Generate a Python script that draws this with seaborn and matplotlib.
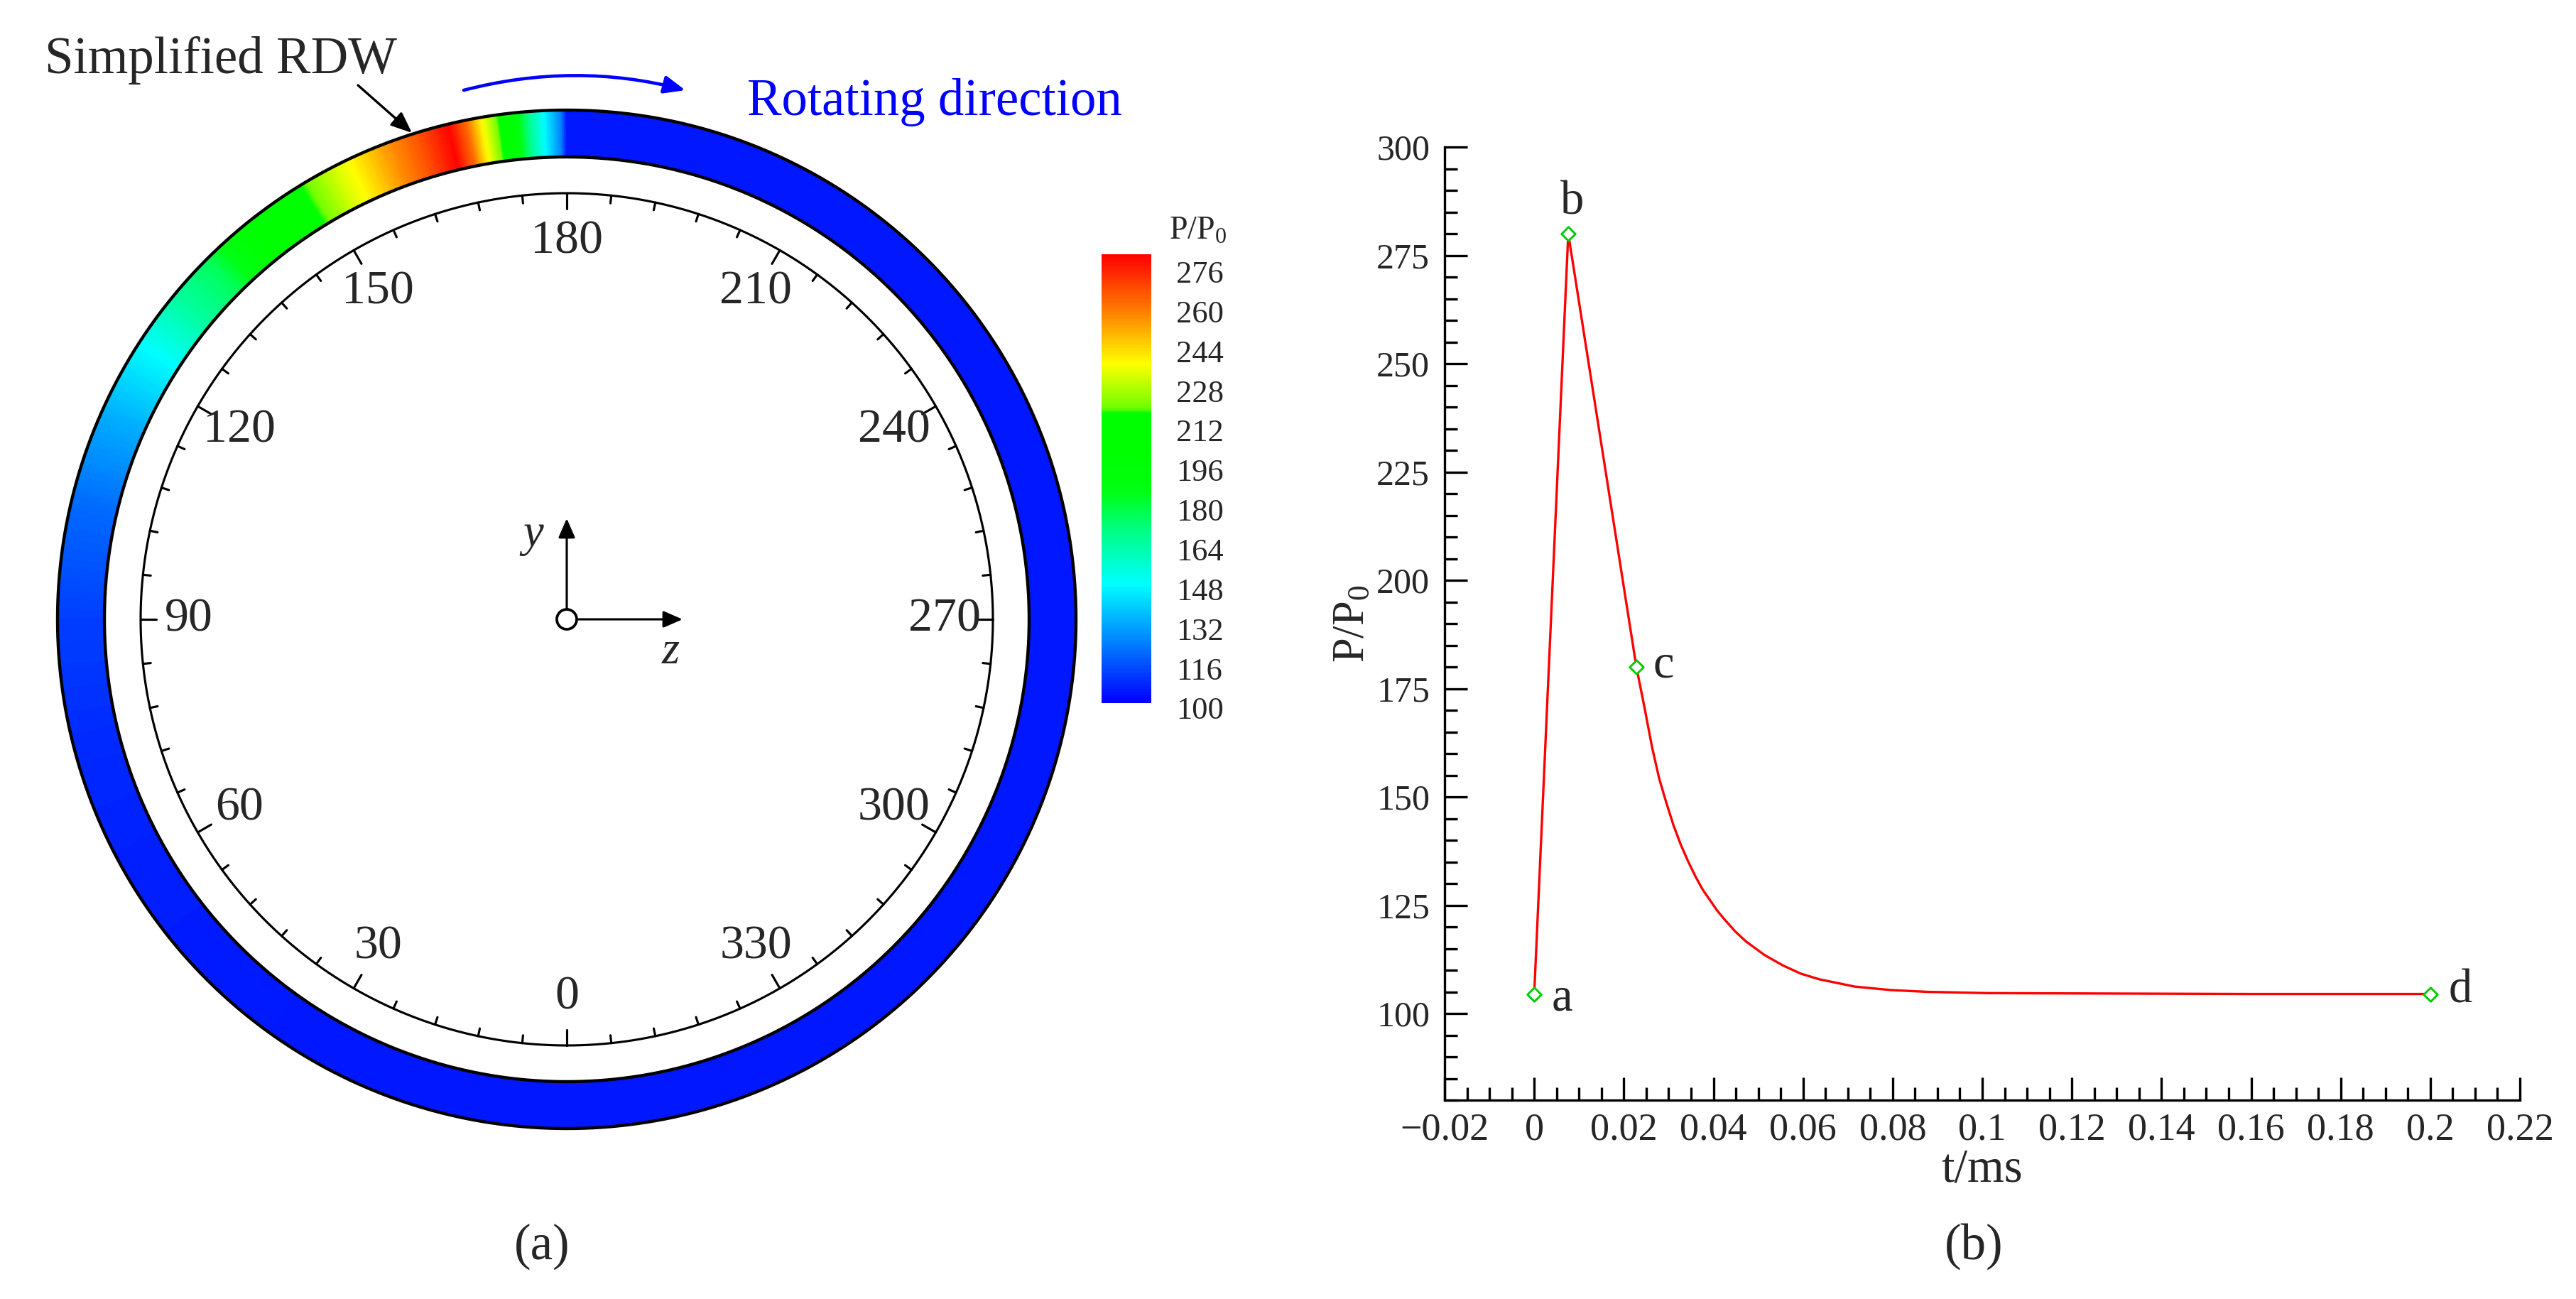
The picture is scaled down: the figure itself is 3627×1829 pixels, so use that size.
import numpy as np
import matplotlib
matplotlib.use('Agg')
import matplotlib.pyplot as plt
from matplotlib.colors import LinearSegmentedColormap
from matplotlib.patches import Circle, FancyArrowPatch
from matplotlib.ticker import MultipleLocator, FuncFormatter
from matplotlib.transforms import ScaledTranslation
import seaborn as sns

# ---------------- data ----------------
# (b) pressure history behind the detonation front
time_ms = [0, 0.0076, 0.0228, 0.0246, 0.0263, 0.0279, 0.0295, 0.0311, 0.0327, 0.0344,
           0.0360, 0.0376, 0.0408, 0.0424, 0.0449, 0.0473, 0.0514, 0.0555, 0.0595,
           0.0636, 0.0716, 0.0797, 0.0877, 0.1014, 0.13, 0.16, 0.2]
pressure = [104.5, 280, 180, 170.7, 161.5, 154.2, 148.6, 143.4, 139.0, 135.0,
            131.6, 128.6, 123.8, 121.8, 118.9, 116.6, 113.5, 111.1, 109.2,
            107.9, 106.2, 105.4, 105.0, 104.7, 104.6, 104.5, 104.5]
key_labels = ['a', 'b', 'c', 'd']
key_time = [0, 0.0076, 0.0228, 0.2]
key_p = [104.5, 280, 180, 104.5]

# (a) P/P0 around the ring, dial angle in degrees
ring_theta = [0, 30, 60, 75, 90, 103, 114, 122.8, 129.6, 134.9, 139.4, 148.5, 152.2,
              154.6, 159.5, 162.7, 166.5, 168.5, 170.1, 171.5, 173.3, 175.5, 177.4,
              179.3, 180, 360]
ring_p = [104.5, 104.7, 106, 108, 112, 120, 133, 148, 165, 175, 195, 217, 230,
          237, 255, 265, 280, 262, 240, 225, 205, 170, 148,
          125, 104.5, 104.5]

dial_labels = [0, 30, 60, 90, 120, 150, 180, 210, 240, 270, 300, 330]
cbar_ticks = [100, 116, 132, 148, 164, 180, 196, 212, 228, 244, 260, 276]

# ---------------- style ----------------
sns.set_style('ticks')
plt.rcParams['font.family'] = ['Liberation Serif', 'DejaVu Sans']
plt.rcParams['mathtext.fontset'] = 'custom'
plt.rcParams['mathtext.rm'] = 'Liberation Serif'
plt.rcParams['mathtext.it'] = 'Liberation Serif:italic'

# tecplot-like rainbow
cmap = LinearSegmentedColormap.from_list('tec', [
    (0.0, (0, 0, 1)),
    ((148 - 100) / 181, (0, 1, 1)),
    ((170 - 100) / 181, (0, 1, 0.5)),
    ((185 - 100) / 181, (0, 1, 0.08)),
    ((200 - 100) / 181, (0, 1, 0)),
    ((217 - 100) / 181, (0, 1, 0)),
    ((219 - 100) / 181, (0.43, 1, 0)),
    ((237 - 100) / 181, (1, 1, 0)),
    ((258 - 100) / 181, (1, 0.5, 0)),
    (1.0, (1, 0, 0)),
])
vmin, vmax = 100, 281

W, H = 3627, 1829
fig = plt.figure(figsize=(W / 300, H / 300), dpi=300)

# whole-figure canvas in pixel units for panel (a)
ax0 = fig.add_axes([0, 0, 1, 1])
ax0.set_xlim(0, W)
ax0.set_ylim(H, 0)
ax0.axis('off')

cx, cy = 798, 872


def polar_xy(theta, r):
    th = np.deg2rad(theta)
    return cx - r * np.sin(th), cy + r * np.cos(th)


# ring coloured by pressure
th_fine = np.linspace(0, 360, 1441)
p_fine = np.interp(th_fine, ring_theta, ring_p)
TH, RR = np.meshgrid(th_fine, [651, 717])
X, Y = polar_xy(TH, RR)
mesh = ax0.pcolormesh(X, Y, np.vstack([p_fine, p_fine]), shading='gouraud',
                      cmap=cmap, vmin=vmin, vmax=vmax, zorder=1)
for r in (651, 717):
    x, y = polar_xy(th_fine, r)
    ax0.plot(x, y, color='black', lw=1.05, zorder=2)

# dial
x, y = polar_xy(th_fine, 600)
ax0.plot(x, y, color='black', lw=0.75, zorder=2)
for a in range(0, 360, 6):
    ln = 22 if a % 30 == 0 else 11
    x, y = polar_xy(np.array([a, a]), np.array([600, 600 - ln]))
    ax0.plot(x, y, color='black', lw=0.75, zorder=2)
for a in dial_labels:
    x, y = polar_xy(a, 532)
    ax0.text(x, y, str(a), ha='center', va='center', fontsize=16.3)

# coordinate icon
arr_kw = dict(arrowstyle='-|>,head_length=0.55,head_width=0.24', color='black',
              lw=0.75, shrinkA=0, shrinkB=0, mutation_scale=10)
ax0.add_patch(FancyArrowPatch((cx, cy - 14), (cx, 730), **arr_kw))
ax0.add_patch(FancyArrowPatch((cx + 14, cy), (961, cy), **arr_kw))
ax0.add_patch(Circle((cx, cy), 14, facecolor='white', edgecolor='black', lw=0.9, zorder=3))
ax0.text(751, 753, 'y', style='italic', fontsize=15.5, ha='center', va='center')
ax0.text(944, 918, 'z', style='italic', fontsize=15.5, ha='center', va='center')

# annotations
ax0.text(63, 103, 'Simplified RDW', fontsize=17.5, ha='left', va='baseline')
ax0.add_patch(FancyArrowPatch((504, 120), (580, 187), color='black', lw=0.8,
                              arrowstyle='-|>,head_length=0.6,head_width=0.25',
                              mutation_scale=10, shrinkA=0, shrinkB=0))
ax0.text(1052, 162, 'Rotating direction', fontsize=17.5, color='#0000ff',
         ha='left', va='baseline')
ax0.add_patch(FancyArrowPatch((653, 127), (965, 127), color='#0000ff', lw=1.1,
                              connectionstyle='arc3,rad=-0.13',
                              arrowstyle='-|>,head_length=0.6,head_width=0.25',
                              mutation_scale=10, shrinkA=0, shrinkB=0))
ax0.text(763, 1755, '(a)', fontsize=17, ha='center', va='center')
ax0.text(2779, 1755, '(b)', fontsize=17, ha='center', va='center')
ax0.text(1686, 325, r'P/P$_\mathrm{0}$', fontsize=11, ha='center', va='center')

# colorbar
cax = fig.add_axes([1551 / W, 1 - 990 / H, 70 / W, 632 / H])
cb = fig.colorbar(mesh, cax=cax)
cb.outline.set_visible(False)
cb.set_ticks(cbar_ticks)
cax.tick_params(length=0, pad=8.5, labelsize=10.7)
shift = ScaledTranslation(0, -7 / 300, fig.dpi_scale_trans)
for lab in cax.get_yticklabels():
    lab.set_transform(lab.get_transform() + shift)

# ---------------- panel (b) ----------------
ax1 = fig.add_axes([2034 / W, 1 - 1549 / H, 1514 / W, 1342 / H])
sns.lineplot(x=time_ms, y=pressure, color='red', lw=0.8, estimator=None, ax=ax1)
sns.scatterplot(x=key_time, y=key_p, marker='D', s=11, facecolor='white',
                edgecolor='#00cc00', linewidth=0.7, zorder=5, ax=ax1)
offsets = {'a': (9.4, -1.5), 'b': (1.4, 10.5), 'c': (9.1, 0.5), 'd': (10.3, 1.0)}
for lab, t, p in zip(key_labels, key_time, key_p):
    ax1.annotate(lab, (t, p), xytext=offsets[lab], textcoords='offset points',
                 ha='center', va='center', fontsize=16)

ax1.set_xlim(-0.02, 0.22)
ax1.set_ylim(80, 300)
ax1.xaxis.set_major_locator(MultipleLocator(0.02))
ax1.xaxis.set_minor_locator(MultipleLocator(0.005))
ax1.yaxis.set_major_locator(MultipleLocator(25))
ax1.yaxis.set_minor_locator(MultipleLocator(5))
ax1.xaxis.set_major_formatter(FuncFormatter(lambda v, pos: f'{round(v, 4):g}'.replace('-', '\u2212')))
ax1.tick_params(which='both', direction='in', width=0.8, color='black')
ax1.tick_params(which='major', length=7.7)
ax1.tick_params(which='minor', length=4.3)
ax1.tick_params(axis='x', labelsize=13, pad=4)
ax1.tick_params(axis='y', labelsize=12, pad=5)
ax1.spines['top'].set_visible(False)
ax1.spines['right'].set_visible(False)
for s in ('left', 'bottom'):
    ax1.spines[s].set_linewidth(0.8)
    ax1.spines[s].set_color('black')
ax1.set_facecolor('none')
ax1.set_xlabel('t/ms', fontsize=16)
ax1.set_ylabel(r'P/P$_\mathrm{0}$', fontsize=15)
ax1.xaxis.set_label_coords(0.5, -0.05)
ax1.yaxis.set_label_coords(-0.066, 0.5)

fig.savefig('out.png', dpi=300, facecolor='white')
